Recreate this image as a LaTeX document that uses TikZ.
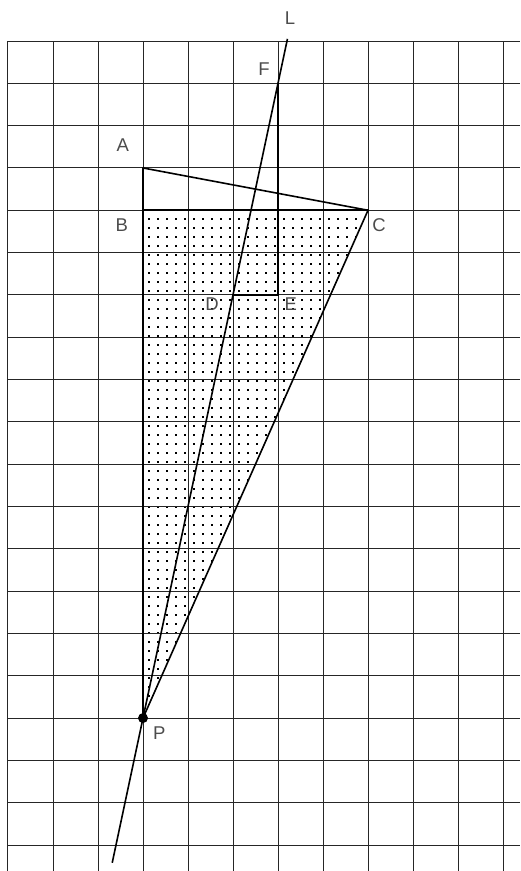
\documentclass[tikz,border=0pt]{standalone}
\usepackage{fontspec}
\setmainfont{Liberation Sans}
\usetikzlibrary{calc,patterns}
\pgfdeclarepatternformonly{finedots}{\pgfqpoint{0pt}{0pt}}{\pgfqpoint{8.5pt}{8.5pt}}{\pgfqpoint{8.5pt}{8.5pt}}{%
  \pgfpathrectangle{\pgfqpoint{3.4pt}{3.4pt}}{\pgfqpoint{1.8pt}{1.8pt}}%
  \pgfusepath{fill}}
\begin{document}
\begin{tikzpicture}[x=45pt,y=-42.316pt,
  gridline/.style={line width=1pt, black!85},
  thickline/.style={line width=2.2pt, line cap=round},
  thinline/.style={line width=1.6pt},
  lbl/.style={font=\fontsize{18.5}{18.5}\selectfont, text=black!70, inner sep=0pt},
  pdot/.style={circle, fill=black, inner sep=0pt, minimum size=10pt}]
\useasboundingbox (-0.17778,-0.96890) rectangle (11.37778,19.61433);
\coordinate (A) at (3,3);
\coordinate (B) at (3,4);
\coordinate (C) at (8,4);
\coordinate (D) at (5,6);
\coordinate (E) at (6,6);
\coordinate (F) at (6,1);
\coordinate (P) at (3,16);
\coordinate (Ltop) at ($(P)!1.07!(F)$);
\coordinate (Lbot) at ($(P)!-0.228!(F)$);
% shaded region
\fill[pattern=finedots] (B) -- (C) -- (P) -- cycle;
% grid
\foreach \i in {0,...,11} \draw[gridline] (\i,0) -- (\i,19.61433);
\foreach \j in {0,...,19} \draw[gridline] (0,\j) -- (11.37778,\j);
% figure lines
\draw[thickline] (A) -- (B) -- (C);
\draw[thickline] (B) -- (P);
\draw[thickline] (F) -- (E) -- (D);
\draw[thinline] (A) -- (C);
\draw[thinline] (C) -- (P);
\draw[thinline] (Lbot) -- (Ltop);
\node[pdot] (Pdot) at (P) {};
% labels
\node[lbl] (labL) at (6.267,-0.544) {L};
\node[lbl] (labF) at (5.689,0.662) {F};
\node[lbl] (labA) at (2.549,2.458) {A};
\node[lbl] (labB) at (2.527,4.348) {B};
\node[lbl] (labC) at (8.244,4.348) {C};
\node[lbl] (labD) at (4.533,6.215) {D};
\node[lbl] (labE) at (6.282,6.215) {E};
\node[lbl] (labP) at (3.363,16.36) {P};
\end{tikzpicture}
\end{document}
